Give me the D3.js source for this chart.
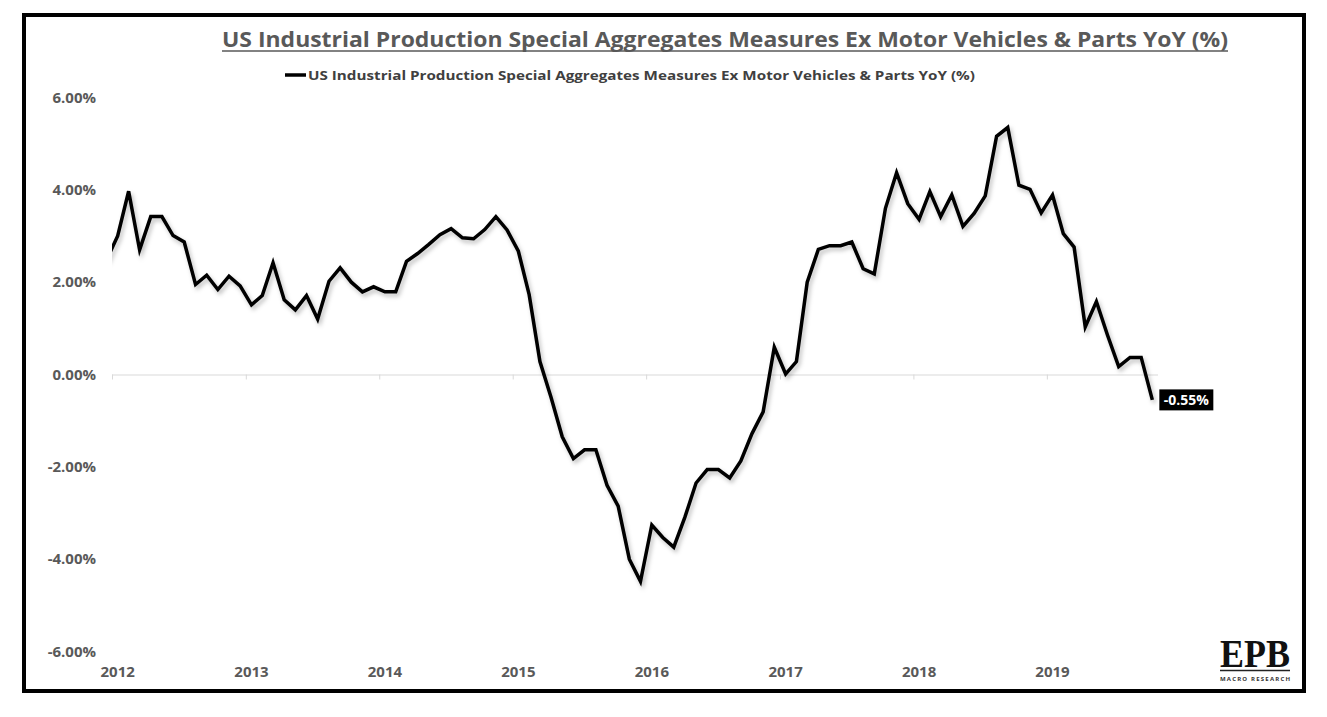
<!DOCTYPE html>
<html>
<head>
<meta charset="utf-8">
<script src="https://cdn.jsdelivr.net/npm/d3@7"></script>
<style>
  body { margin: 0; background: #fff; }
  svg { display: block; font-family: "Open Sans", "DejaVu Sans", sans-serif; }
</style>
</head>
<body>
<div id="chart"></div>
<script>
const chartTitle = "US Industrial Production Special Aggregates Measures Ex Motor Vehicles & Parts YoY (%)";
const seriesName = "US Industrial Production Special Aggregates Measures Ex Motor Vehicles & Parts YoY (%)";

// monthly, Dec 2011 (clipped at axis start) .. Oct 2019
const firstMonth = new Date(2011, 11, 1);
const yoy2011 = [2.47];
const yoy2012 = [3.00, 3.97, 2.70, 3.42, 3.42, 3.01, 2.87, 1.95, 2.15, 1.84, 2.13, 1.92];
const yoy2013 = [1.51, 1.71, 2.42, 1.62, 1.40, 1.71, 1.20, 2.02, 2.31, 2.00, 1.79, 1.90];
const yoy2014 = [1.79, 1.79, 2.45, 2.62, 2.82, 3.03, 3.16, 2.96, 2.94, 3.14, 3.42, 3.13];
const yoy2015 = [2.67, 1.73, 0.28, -0.50, -1.35, -1.82, -1.63, -1.63, -2.40, -2.85, -4.00, -4.48];
const yoy2016 = [-3.26, -3.53, -3.74, -3.09, -2.35, -2.06, -2.06, -2.24, -1.87, -1.28, -0.81, 0.59];
const yoy2017 = [0.01, 0.28, 2.00, 2.71, 2.79, 2.79, 2.87, 2.29, 2.18, 3.60, 4.37, 3.70];
const yoy2018 = [3.36, 3.96, 3.42, 3.89, 3.21, 3.49, 3.87, 5.16, 5.35, 4.10, 4.01, 3.50];
const yoy2019 = [3.89, 3.05, 2.76, 1.03, 1.58, 0.85, 0.17, 0.37, 0.37, -0.55];

const yTicks = [-6, -4, -2, 0, 2, 4, 6];
const xStart = new Date(2012, 0, 1);
const xEnd = new Date(2019, 10, 1);

const width = 1327;
const height = 717;

const values = [].concat(yoy2011, yoy2012, yoy2013, yoy2014, yoy2015, yoy2016, yoy2017, yoy2018, yoy2019);
const data = values.map((v, i) => {
	const m = d3.timeMonth.offset(firstMonth, i);
	// plotted in the middle of each month
	return { date: new Date(m.getTime() + (d3.timeMonth.offset(m, 1) - m) / 2), value: v };
});

const x = d3.scaleTime().domain([xStart, xEnd]).range([112, 1158]);
const y = d3.scaleLinear().domain([-6, 6]).range([651.5, 97.5]);

const svg = d3.select("#chart").append("svg").attr("width", width).attr("height", height);

const defs = svg.append("defs");
defs.append("clipPath").attr("id", "plot-clip")
	.append("rect").attr("x", x.range()[0]).attr("y", 0).attr("width", x.range()[1] - x.range()[0]).attr("height", height);
const shadow = defs.append("filter").attr("id", "shadow")
	.attr("x", "-5%").attr("y", "-5%").attr("width", "110%").attr("height", "115%");
shadow.append("feDropShadow").attr("dx", 2).attr("dy", 3).attr("stdDeviation", 2)
	.attr("flood-color", "#000").attr("flood-opacity", 0.25);

// frame
svg.append("rect").attr("x", 24).attr("y", 15).attr("width", 1280).attr("height", 676)
	.attr("fill", "none").attr("stroke", "#000").attr("stroke-width", 4);

// title
svg.append("text").attr("x", 725).attr("y", 47).attr("text-anchor", "middle")
	.attr("font-size", 21).attr("font-weight", 700).attr("fill", "#595959")
	.attr("textLength", 1006).attr("lengthAdjust", "spacingAndGlyphs").text(chartTitle);
svg.append("line").attr("x1", 222).attr("x2", 1228).attr("y1", 51).attr("y2", 51)
	.attr("stroke", "#595959").attr("stroke-width", 1.6);

// legend
svg.append("line").attr("x1", 285).attr("x2", 306).attr("y1", 75).attr("y2", 75)
	.attr("stroke", "#000").attr("stroke-width", 3.5);
svg.append("text").attr("x", 308).attr("y", 79.5)
	.attr("font-size", 13).attr("font-weight", 700).attr("fill", "#404040")
	.attr("textLength", 667).attr("lengthAdjust", "spacingAndGlyphs").text(seriesName);

// y axis labels
const yAxis = svg.append("g").attr("transform", `translate(${x.range()[0]},0)`)
	.call(d3.axisLeft(y).tickValues(yTicks).tickSize(0).tickPadding(16).tickFormat((d) => d.toFixed(2) + "%"));
yAxis.select(".domain").remove();
yAxis.selectAll("text").attr("font-family", "'Open Sans', sans-serif").attr("font-size", 15)
	.attr("font-weight", 700).attr("fill", "#595959");

// zero line with year ticks
const xAxis = svg.append("g").attr("transform", `translate(0,${y(0)})`)
	.call(d3.axisBottom(x).ticks(d3.timeYear.every(1)).tickSize(5).tickFormat(""));
xAxis.select(".domain").attr("stroke", "#d9d9d9").attr("d", `M${x.range()[0]},0.5H${x.range()[1]}`);
xAxis.selectAll(".tick line").attr("stroke", "#d9d9d9");

// year labels along the bottom, centred on January
const halfMonth = (x(new Date(2012, 1, 1)) - x(new Date(2012, 0, 1))) / 2;
svg.append("g").selectAll("text")
	.data(x.ticks(d3.timeYear.every(1)))
	.join("text")
	.attr("x", (d) => x(d) + halfMonth)
	.attr("y", 677)
	.attr("text-anchor", "middle")
	.attr("font-size", 15).attr("font-weight", 700).attr("fill", "#595959")
	.text(d3.timeFormat("%Y"));

// series
const line = d3.line().x((d) => x(d.date)).y((d) => y(d.value));
svg.append("g").attr("clip-path", "url(#plot-clip)")
	.append("path").datum(data)
	.attr("d", line)
	.attr("fill", "none").attr("stroke", "#000").attr("stroke-width", 3.5)
	.attr("stroke-linejoin", "miter").attr("filter", "url(#shadow)");

// last value label
const last = data[data.length - 1];
const lbl = svg.append("g").attr("transform", `translate(${x(last.date) + 7},${y(last.value)})`);
lbl.append("rect").attr("x", 0).attr("y", -10.5).attr("width", 54).attr("height", 21).attr("fill", "#000");
lbl.append("text").attr("x", 27).attr("y", 5).attr("text-anchor", "middle")
	.attr("font-size", 14).attr("font-weight", 700).attr("fill", "#fff")
	.text(last.value.toFixed(2) + "%");

// EPB logo
const logo = svg.append("g").attr("transform", "translate(1220,0)");
logo.append("text").attr("x", 35).attr("y", 667).attr("text-anchor", "middle")
	.attr("font-family", "'Liberation Serif', 'DejaVu Serif', serif").attr("font-size", 40)
	.attr("font-weight", 700).attr("fill", "#111")
	.attr("textLength", 70).attr("lengthAdjust", "spacingAndGlyphs").text("EPB");
logo.append("line").attr("x1", 0).attr("x2", 70).attr("y1", 670.5).attr("y2", 670.5)
	.attr("stroke", "#222").attr("stroke-width", 1.4);
logo.append("text").attr("x", 35).attr("y", 681).attr("text-anchor", "middle")
	.attr("font-size", 6).attr("font-weight", 700).attr("fill", "#333")
	.attr("textLength", 70).attr("lengthAdjust", "spacing")
	.text("MACRO RESEARCH");
</script>
</body>
</html>
